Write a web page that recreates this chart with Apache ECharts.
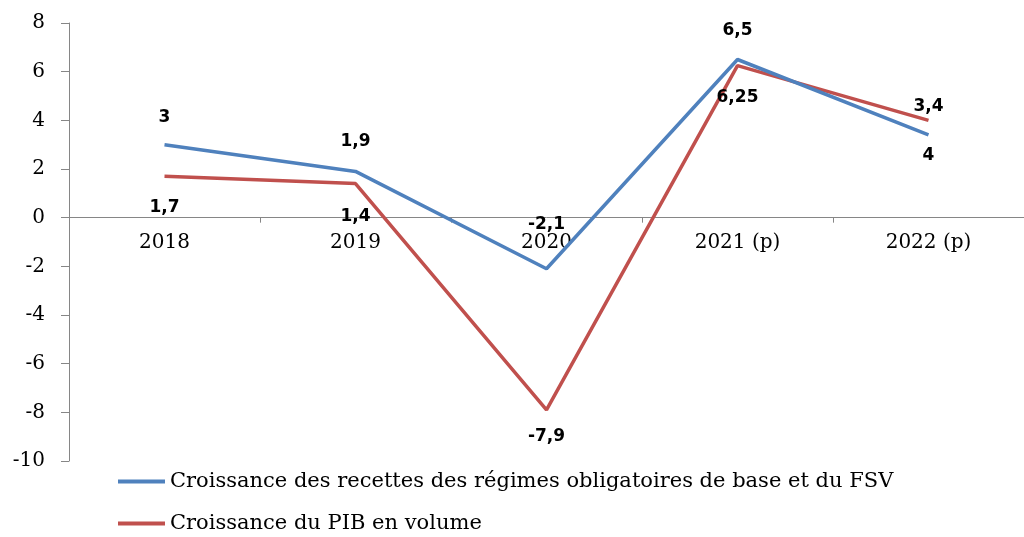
<!DOCTYPE html>
<html>
<head>
<meta charset="utf-8">
<script src="https://cdn.jsdelivr.net/npm/echarts@6/dist/echarts.min.js"></script>
<style>
    html, body { margin: 0; padding: 0; background: #fff; }
    #main { width: 1024px; height: 537px; }
</style>
</head>
<body>
<div id="main"></div>
<script>
    // categories and series
    const years = ['2018', '2019', '2020', '2021 (p)', '2022 (p)'];
    const recettes = [3, 1.9, -2.1, 6.5, 3.4];
    const pib = [1.7, 1.4, -7.9, 6.25, 4];
    // data label texts as printed on the chart
    const recettesLabels = ['3', '1,9', '-2,1', '6,5', '4'];
    const pibLabels = ['1,7', '1,4', '-7,9', '6,25', '3,4'];
    const yTicks = [-10, -8, -6, -4, -2, 0, 2, 4, 6, 8];

    const nameRecettes = 'Croissance des recettes des régimes obligatoires de base et du FSV';
    const namePib = 'Croissance du PIB en volume';

    const serif = 'DejaVu Serif';
    const axisGray = '#868686';

    // label placement per point: [position, distance]
    const placeRecettes = [['top', 19], ['top', 21], ['top', 36], ['top', 20], ['bottom', 12]];
    const placePib = [['bottom', 23], ['bottom', 24], ['bottom', 18], ['bottom', 23], ['top', 5]];

    let buildData = (vals, texts, place) => vals.map((v, i) => ({
        value: v,
        label: {
            show: true,
            formatter: texts[i],
            position: place[i][0],
            distance: place[i][1]
        }
    }));

    let setLine = (name, color, vals, texts, place) => ({
        name,
        type: 'line',
        xAxisIndex: 0,
        data: buildData(vals, texts, place),
        symbol: 'circle',
        symbolSize: 0,
        showSymbol: true,
        lineStyle: { color, width: 3.5 },
        itemStyle: { color },
        label: {
            show: true,
            fontFamily: 'DejaVu Sans',
            fontWeight: 'bold',
            fontSize: 17,
            color: '#000'
        },
        z: name == namePib ? 2 : 3
    });

    let setLegend = (name, top) => ({
        orient: 'vertical',
        left: 113,
        top,
        icon: 'rect',
        itemWidth: 47,
        itemHeight: 4,
        itemGap: 0,
        textStyle: { fontFamily: serif, fontSize: 21, color: '#000' },
        data: [name]
    });

    let myChart = echarts.init(document.getElementById('main'));
    myChart.setOption({
        animation: false,
        grid: { left: 69, right: -7, top: 23, bottom: 76, containLabel: false },
        legend: [setLegend(nameRecettes, 466), setLegend(namePib, 508)],
        xAxis: [{
            // axis line and ticks through zero
            type: 'category',
            data: years,
            axisLine: { onZero: true, lineStyle: { color: axisGray, width: 1 } },
            axisTick: { show: true, length: 5, lineStyle: { color: axisGray } },
            axisLabel: { show: false }
        }, {
            // category labels, drawn just under the zero line
            type: 'category',
            data: years,
            position: 'bottom',
            offset: -244,
            axisLine: { show: false, onZero: false },
            axisTick: { show: false },
            axisLabel: { margin: 16, fontFamily: serif, fontSize: 20, color: '#000' }
        }],
        yAxis: {
            type: 'value',
            min: yTicks[0],
            max: yTicks[yTicks.length - 1],
            interval: 2,
            axisLine: { show: true, lineStyle: { color: axisGray, width: 1 } },
            axisTick: { show: true, length: 8, lineStyle: { color: axisGray } },
            splitLine: { show: false },
            axisLabel: { margin: 24, fontFamily: serif, fontSize: 20, color: '#000' }
        },
        series: [
            setLine(nameRecettes, '#4F81BD', recettes, recettesLabels, placeRecettes),
            setLine(namePib, '#C0504D', pib, pibLabels, placePib)
        ]
    });
</script>
</body>
</html>
